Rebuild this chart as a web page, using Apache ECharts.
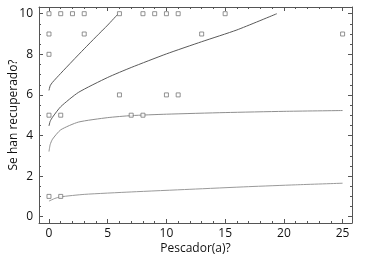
<!DOCTYPE html>
<html>
<head>
<meta charset="utf-8">
<script src="https://cdn.jsdelivr.net/npm/echarts@6/dist/echarts.min.js"></script>
<style>
  html, body { margin: 0; padding: 0; background: #fff; }
  #chart { width: 379px; height: 267px; }
</style>
</head>
<body>
<div id="chart"></div>
<script>
// tick labels
const xTicks = [0, 5, 10, 15, 20, 25]
const xMinorTicks = [1, 2, 3, 4, 6, 7, 8, 9, 11, 12, 13, 14, 16, 17, 18, 19, 21, 22, 23, 24]
const yTicks = [0, 2, 4, 6, 8, 10]
const yMinorTicks = [0.5, 1, 1.5, 2.5, 3, 3.5, 4.5, 5, 5.5, 6.5, 7, 7.5, 8.5, 9, 9.5]

// observed points [pescador, recuperado]
const obsPoints = [
  [0, 10], [1, 10], [2, 10], [3, 10], [6, 10], [8, 10], [9, 10], [10, 10], [11, 10], [15, 10],
  [0, 9], [3, 9], [13, 9], [25, 9],
  [0, 8],
  [6, 6], [10, 6], [11, 6],
  [0, 5], [1, 5], [7, 5], [8, 5],
  [0, 1], [1, 1]
]

// fitted curves
const curveA = [[0, 6.22], [0.1, 6.45], [0.3, 6.62], [1, 7.06], [2, 7.67], [3, 8.27], [4, 8.86], [5, 9.44], [5.9, 10.0]]
const curveB = [[0, 4.47], [0.1, 4.7], [0.3, 4.9], [1, 5.42], [2.5, 6.12], [5, 6.86], [7, 7.35], [10, 8.02], [13, 8.62], [16, 9.2], [19.4, 10.0]]
const curveC = [[0, 3.21], [0.1, 3.55], [0.3, 3.82], [1, 4.28], [2.5, 4.66], [5, 4.88], [7, 4.98], [10, 5.05], [15, 5.13], [20, 5.19], [25, 5.23]]
const curveD = [[0, 0.77], [0.5, 0.9], [1, 0.98], [3, 1.1], [7, 1.22], [12, 1.35], [17, 1.48], [21, 1.57], [25, 1.65]]

const AXIS_COLOR = '#555'
const FONT = 'Open Sans'
const X_MIN = -0.85, X_MAX = 25.8
const Y_MIN = -0.31, Y_MAX = 10.33

const makeX = (pos, ticks, len, withLine, withLabel) => ({
  type: 'value',
  position: pos,
  min: X_MIN,
  max: X_MAX,
  splitLine: { show: false },
  axisLine: { show: withLine, onZero: false, lineStyle: { color: AXIS_COLOR, width: 1 } },
  axisTick: { show: true, inside: true, length: len, customValues: ticks, lineStyle: { color: AXIS_COLOR } },
  axisLabel: withLabel
    ? { show: true, customValues: ticks, color: '#111', fontFamily: FONT, fontSize: 12, margin: 5 }
    : { show: false }
})

const makeY = (pos, ticks, len, withLine, withLabel) => ({
  type: 'value',
  position: pos,
  min: Y_MIN,
  max: Y_MAX,
  splitLine: { show: false },
  axisLine: { show: withLine, onZero: false, lineStyle: { color: AXIS_COLOR, width: 1 } },
  axisTick: { show: true, inside: true, length: len, customValues: ticks, lineStyle: { color: AXIS_COLOR } },
  axisLabel: withLabel
    ? { show: true, customValues: ticks, color: '#111', fontFamily: FONT, fontSize: 12, margin: 6 }
    : { show: false }
})

const xMain = makeX('bottom', xTicks, 4, true, true)
xMain.name = 'Pescador(a)?'
xMain.nameLocation = 'middle'
xMain.nameGap = 20
xMain.nameMoveOverlap = false
xMain.nameTextStyle = { color: '#111', fontFamily: FONT, fontSize: 12 }

const yMain = makeY('left', yTicks, 4, true, true)
yMain.name = 'Se han recuperado?'
yMain.nameLocation = 'middle'
yMain.nameGap = 19
yMain.nameMoveOverlap = false
yMain.nameTextStyle = { color: '#111', fontFamily: FONT, fontSize: 12 }

const lineSeries = (data, color) => ({
  type: 'line',
  data: data,
  xAxisIndex: 0,
  yAxisIndex: 0,
  showSymbol: false,
  smooth: 0.2,
  lineStyle: { color: color, width: 1 },
  silent: true,
  z: 2
})

const chart = echarts.init(document.getElementById('chart'))
chart.setOption({
  animation: false,
  backgroundColor: '#fff',
  grid: { left: 39, right: 27, top: 7, bottom: 44, containLabel: false, outerBoundsMode: 'none' },
  xAxis: [
    xMain,
    makeX('bottom', xMinorTicks, 2, false, false),
    makeX('top', xTicks, 4, true, false),
    makeX('top', xMinorTicks, 2, false, false)
  ],
  yAxis: [
    yMain,
    makeY('left', yMinorTicks, 2, false, false),
    makeY('right', yTicks, 4, true, false),
    makeY('right', yMinorTicks, 2, false, false)
  ],
  series: [
    lineSeries(curveA, '#5a5a5a'),
    lineSeries(curveB, '#5a5a5a'),
    lineSeries(curveC, '#8f8f8f'),
    lineSeries(curveD, '#9a9a9a'),
    {
      type: 'scatter',
      data: obsPoints,
      xAxisIndex: 0,
      yAxisIndex: 0,
      symbol: 'rect',
      symbolSize: 4,
      itemStyle: { color: '#fff', borderColor: '#777', borderWidth: 1 },
      z: 3
    }
  ]
})
</script>
</body>
</html>
